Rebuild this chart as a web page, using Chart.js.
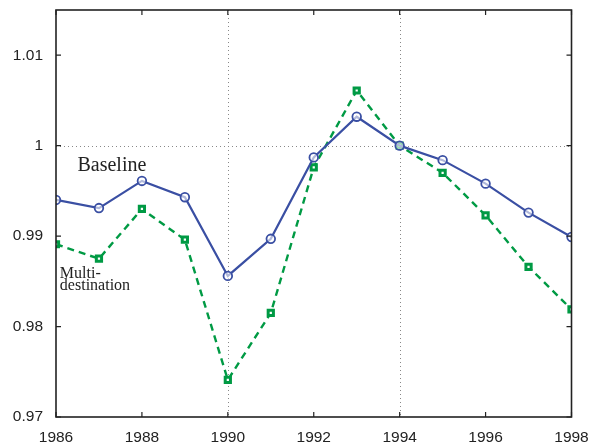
<!DOCTYPE html>
<html>
<head>
<meta charset="utf-8">
<script src="https://cdn.jsdelivr.net/npm/chart.js@4/dist/chart.umd.min.js"></script>
<style>
html,body{margin:0;padding:0;background:#fff;}
#wrap{width:589px;height:444px;position:relative;}
</style>
</head>
<body>
<div id="wrap"><canvas id="c" width="589" height="444"></canvas></div>
<script>
const years = [1986,1987,1988,1989,1990,1991,1992,1993,1994,1995,1996,1997,1998];
const baseline = [0.9940,0.9931,0.9961,0.9943,0.9856,0.9897,0.9987,1.0032,1.0000,0.9984,0.9958,0.9926,0.9899];
const multiDestination = [0.9891,0.9875,0.9930,0.9896,0.9741,0.9815,0.9976,1.0061,1.0000,0.9970,0.9923,0.9866,0.9819];
const xTicks = [1986,1988,1990,1992,1994,1996,1998];
const yTicks = [0.97,0.98,0.99,1,1.01];
const xGrid = [1990,1994];
const yGrid = [1];
const labelBaseline = "Baseline";
const labelMulti = ["Multi-","destination"];

const frame = {
  id:'frame',
  beforeDatasetsDraw(chart){
    const {ctx, chartArea:a, scales:{x,y}} = chart;
    ctx.save();
    ctx.strokeStyle='#888';
    ctx.lineWidth=1;
    ctx.setLineDash([1,3]);
    xGrid.forEach(v=>{const px=Math.round(x.getPixelForValue(v))+0.5;ctx.beginPath();ctx.moveTo(px,a.top);ctx.lineTo(px,a.bottom);ctx.stroke();});
    yGrid.forEach(v=>{const py=Math.round(y.getPixelForValue(v))+0.5;ctx.beginPath();ctx.moveTo(a.left,py);ctx.lineTo(a.right,py);ctx.stroke();});
    ctx.setLineDash([]);
    ctx.restore();
  },
  afterDraw(chart){
    const {ctx, chartArea:a, scales:{x,y}} = chart;
    ctx.save();
    ctx.strokeStyle='#222';
    ctx.lineWidth=1.6;
    ctx.strokeRect(a.left,a.top,a.right-a.left,a.bottom-a.top);
    ctx.lineWidth=1.2;
    xTicks.forEach(v=>{const px=x.getPixelForValue(v);ctx.beginPath();ctx.moveTo(px,a.bottom);ctx.lineTo(px,a.bottom-5);ctx.moveTo(px,a.top);ctx.lineTo(px,a.top+5);ctx.stroke();});
    yTicks.forEach(v=>{const py=y.getPixelForValue(v);ctx.beginPath();ctx.moveTo(a.left,py);ctx.lineTo(a.left+5,py);ctx.moveTo(a.right,py);ctx.lineTo(a.right-5,py);ctx.stroke();});
    // annotations
    ctx.fillStyle='#222';
    ctx.textBaseline='alphabetic';
    ctx.textAlign='left';
    ctx.font='20px "Liberation Serif"';
    ctx.fillText(labelBaseline, x.getPixelForValue(1986.5), y.getPixelForValue(0.99725));
    ctx.font='16px "Liberation Serif"';
    ctx.fillText(labelMulti[0], x.getPixelForValue(1986.09), y.getPixelForValue(0.98540));
    ctx.fillText(labelMulti[1], x.getPixelForValue(1986.09), y.getPixelForValue(0.98405));
    ctx.restore();
  }
};

new Chart(document.getElementById('c'), {
  type:'line',
  data:{
    datasets:[
      {label:'Baseline', data:years.map((yr,i)=>({x:yr,y:baseline[i]})),
       borderColor:'#3a4fa3', borderWidth:2.2, pointStyle:'circle', pointRadius:4.3,
       pointBorderWidth:1.8, pointBackgroundColor:'rgba(255,255,255,0.6)', pointBorderColor:'#3a4fa3', tension:0},
      {label:'Multi-destination', data:years.map((yr,i)=>({x:yr,y:multiDestination[i]})),
       borderColor:'#009a44', borderWidth:2.4, borderDash:[7,5], pointStyle:'rect', pointRadius:3.7,
       pointBorderWidth:3, pointBackgroundColor:'#ffffff', pointBorderColor:'#009a44', tension:0}
    ]
  },
  options:{
    responsive:false, animation:false, devicePixelRatio:1,
    layout:{padding:{top:10,right:17.5,left:0,bottom:0}},
    plugins:{legend:{display:false}, tooltip:{enabled:false}},
    scales:{
      x:{type:'linear', min:1986, max:1998,
         afterBuildTicks(s){s.ticks = xTicks.map(v=>({value:v}));},
         afterFit(s){s.height=27; s.paddingLeft=0; s.paddingRight=0; s.paddingTop=0; s.paddingBottom=0;},
         grid:{display:false, drawTicks:false, tickLength:0}, border:{display:false},
         ticks:{color:'#222', font:{family:'"Liberation Sans", Arial', size:15.5}, padding:11, maxRotation:0, autoSkip:false,
                callback:v=>String(v)}},
      y:{type:'linear', min:0.97, max:1.015,
         afterBuildTicks(s){s.ticks = yTicks.map(v=>({value:v}));},
         afterFit(s){s.width=56; s.paddingLeft=0; s.paddingRight=0; s.paddingTop=0; s.paddingBottom=0;},
         grid:{display:false, drawTicks:false, tickLength:0}, border:{display:false},
         ticks:{color:'#222', font:{family:'"Liberation Sans", Arial', size:15.5}, padding:13,
                callback:v=>String(parseFloat(v.toFixed(2)))}}
    }
  },
  plugins:[frame]
});
</script>
</body>
</html>
